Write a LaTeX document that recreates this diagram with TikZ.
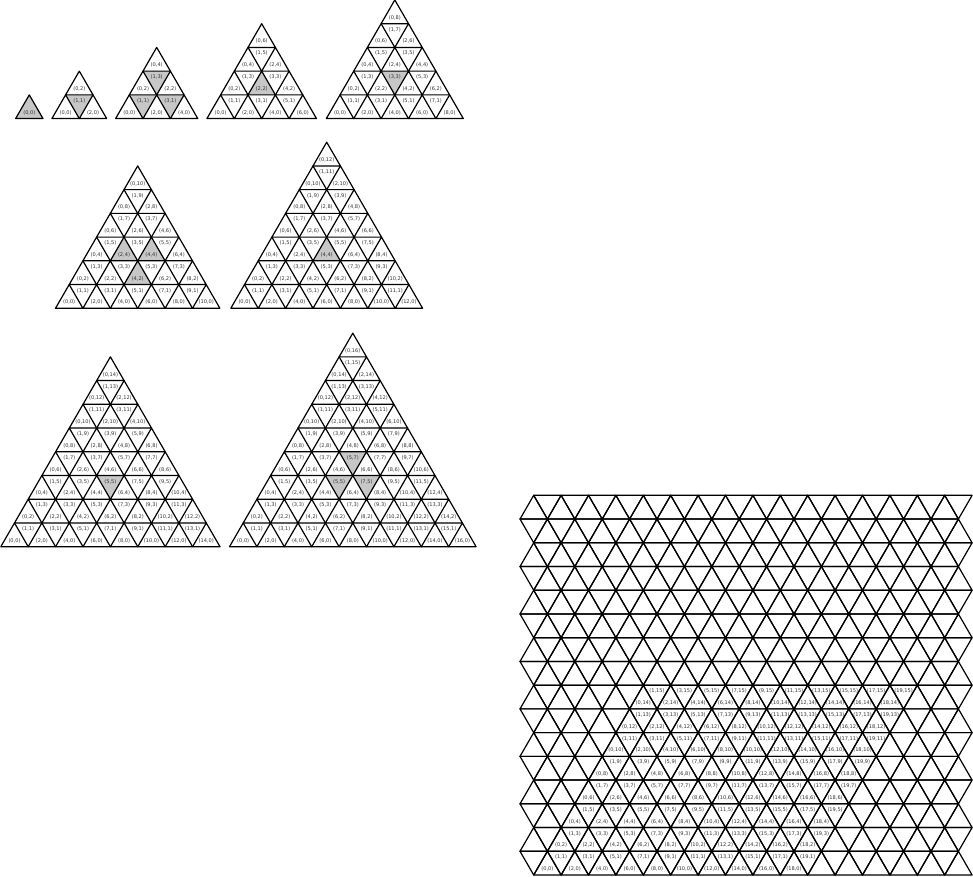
\documentclass[tikz,border=0pt]{standalone}
\usepackage{fontspec}
\setmainfont{DejaVu Sans}
\def\s{27.4}
\def\hs{13.7}
\def\h{23.73}
\def\lo{6}
\tikzset{
  tri/.style={draw=black, line width=0.3mm, line join=round},
  grayfill/.style={fill=black!22},
  lab/.style={font=\fontsize{3.6pt}{4pt}\selectfont, text=black!80, inner sep=0pt},
}
% small triangular figure: #1 left x, #2 base y, #3 size n
\newcommand\tfig[3]{%
  \pgfmathtruncatemacro\nm{#3-1}%
  \foreach \r in {0,...,\nm}{%
    \pgfmathtruncatemacro\ku{#3-1-\r}%
    \pgfmathsetmacro\yb{#2-\r*\h}%
    \pgfmathsetmacro\yt{#2-(\r+1)*\h}%
    \foreach \k in {0,...,\ku}{%
      \pgfmathsetmacro\xa{#1+\r*\hs+\k*\s}%
      \pgfmathtruncatemacro\iu{2*\k}%
      \pgfmathtruncatemacro\ju{2*\r}%
      \draw[tri] (\xa,\yb) -- ++(\s,0) -- ++(-\hs,-\h) -- cycle;
      \node[lab] at (\xa+\hs,\yb-\lo) {(\iu,\ju)};
      \ifnum\k<\ku
        \pgfmathtruncatemacro\id{2*\k+1}%
        \pgfmathtruncatemacro\jd{2*\r+1}%
        \node[lab] at (\xa+\s,\yt+\lo) {(\id,\jd)};
      \fi
    }%
  }%
}
% shaded up triangle: L, B, row, k
\newcommand\shu[4]{\fill[grayfill] ({#1+#3*\hs+#4*\s},{#2-#3*\h}) -- ++(\s,0) -- ++(-\hs,-\h) -- cycle;}
% shaded down triangle: L, B, row, k
\newcommand\shd[4]{\fill[grayfill] ({#1+#3*\hs+#4*\s+\hs},{#2-(#3+1)*\h}) -- ++(\s,0) -- ++(-\hs,\h) -- cycle;}
\begin{document}
\begin{tikzpicture}[x=0.25mm, y=-0.25mm]
\useasboundingbox (0,0) rectangle (973,877);
% ---- shading ----
\shu{15.6}{118.6}{0}{0}
\shd{51.9}{118.6}{0}{0}
\shd{115.6}{118.6}{0}{0}
\shd{115.6}{118.6}{0}{1}
\shd{115.6}{118.6}{1}{0}
\shu{206.9}{118.6}{1}{1}
\shd{326.3}{118.6}{1}{1}
\shu{55.5}{308.3}{2}{1}
\shu{55.5}{308.3}{2}{2}
\shu{55.5}{308.3}{1}{2}
\shu{230.8}{308.3}{2}{2}
\shd{0.8}{546.7}{2}{2}
\shd{229.5}{546.7}{3}{2}
\shd{229.5}{546.7}{2}{2}
\shd{229.5}{546.7}{2}{3}
% ---- small figures ----
\tfig{15.6}{118.6}{1}
\tfig{51.9}{118.6}{2}
\tfig{115.6}{118.6}{3}
\tfig{206.9}{118.6}{4}
\tfig{326.3}{118.6}{5}
\tfig{55.5}{308.3}{6}
\tfig{230.8}{308.3}{7}
\tfig{0.8}{546.7}{8}
\tfig{229.5}{546.7}{9}
% ---- large grid ----
\foreach \r in {0,...,15}{%
  \pgfmathsetmacro\yb{875-\r*\h}%
  \ifodd\r \def\o{0}\else \def\o{13.7}\fi
  \foreach \k in {0,...,15}{%
    \draw[tri] (520+\o+\k*\s,\yb) -- ++(\s,0) -- ++(-\hs,-\h) -- cycle;
    \draw[tri] (520+\hs-\o+\k*\s,\yb-\h) -- ++(\s,0) -- ++(-\hs,\h) -- cycle;
  }%
}
\foreach \r in {0,...,7}{%
  \pgfmathsetmacro\yb{875-\r*\h}%
  \foreach \m in {0,...,9}{%
    \pgfmathtruncatemacro\iu{2*\m}%
    \pgfmathtruncatemacro\ju{2*\r}%
    \pgfmathtruncatemacro\id{2*\m+1}%
    \pgfmathtruncatemacro\jd{2*\r+1}%
    \node[lab] at (547.4+\m*\s+\r*\hs,\yb-\lo) {(\iu,\ju)};
    \node[lab] at (547.4+\hs+\m*\s+\r*\hs,\yb-\h+\lo) {(\id,\jd)};
  }%
}
\end{tikzpicture}
\end{document}
